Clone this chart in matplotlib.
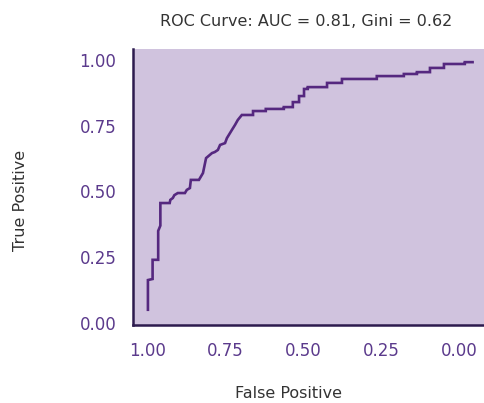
import matplotlib.pyplot as plt

# ROC curve vertices (x axis is reversed)
spec = [1.000, 1.000, 0.985, 0.985, 0.967, 0.967, 0.960, 0.960, 0.930, 0.928,
        0.920, 0.915, 0.904, 0.881, 0.875, 0.865, 0.862, 0.836, 0.823, 0.813,
        0.794, 0.785, 0.775, 0.768, 0.752, 0.746, 0.730, 0.720, 0.711, 0.698,
        0.662, 0.662, 0.621, 0.621, 0.563, 0.563, 0.534, 0.534, 0.514, 0.514,
        0.498, 0.498, 0.486, 0.486, 0.424, 0.424, 0.376, 0.376, 0.264, 0.264,
        0.177, 0.177, 0.135, 0.135, 0.093, 0.093, 0.048, 0.048, -0.019, -0.019,
        -0.044]
sens = [0.050, 0.163, 0.167, 0.240, 0.240, 0.350, 0.370, 0.456, 0.456, 0.468,
        0.475, 0.486, 0.494, 0.494, 0.506, 0.513, 0.544, 0.544, 0.570, 0.627,
        0.646, 0.650, 0.658, 0.677, 0.684, 0.703, 0.734, 0.753, 0.772, 0.791,
        0.791, 0.806, 0.806, 0.814, 0.814, 0.821, 0.821, 0.840, 0.840, 0.863,
        0.863, 0.890, 0.890, 0.897, 0.897, 0.913, 0.913, 0.928, 0.928, 0.939,
        0.939, 0.947, 0.947, 0.954, 0.954, 0.970, 0.970, 0.985, 0.985, 0.992,
        0.992]
ticks = [1.00, 0.75, 0.50, 0.25, 0.00]
tick_labels = ["1.00", "0.75", "0.50", "0.25", "0.00"]

plt.rcParams['font.family'] = ['DejaVu Sans']

fig = plt.figure(figsize=(4.85, 4.03), dpi=100)
ax = fig.add_axes([133 / 485, 78 / 403, 352 / 485, 276 / 403])
ax.set_facecolor('#d0c3de')

ax.plot(spec, sens, color='#55287f', linewidth=1.9, solid_joinstyle='miter')

ax.set_xlim(1.048, -0.084)
ax.set_ylim(-0.008, 1.042)
ax.set_xticks(ticks)
ax.set_xticklabels(tick_labels)
ax.set_yticks(ticks)
ax.set_yticklabels(tick_labels)
ax.tick_params(length=0, labelsize=12, labelcolor='#5b3a8c', pad=12)

for side in ['top', 'right']:
    ax.spines[side].set_visible(False)
for side in ['left', 'bottom']:
    ax.spines[side].set_color('#2d1b4e')
    ax.spines[side].set_linewidth(1.8)

fig.text(306 / 485, 1 - 22 / 403, 'ROC Curve: AUC = 0.81, Gini = 0.62',
         ha='center', va='center', fontsize=11.5, color='#333333')
fig.text(289 / 485, 1 - 393 / 403, 'False Positive',
         ha='center', va='center', fontsize=11.5, color='#333333')
fig.text(21 / 485, 1 - 200 / 403, 'True Positive', rotation=90,
         ha='center', va='center', fontsize=11.5, color='#333333')

fig.savefig('out.png', dpi=100)
